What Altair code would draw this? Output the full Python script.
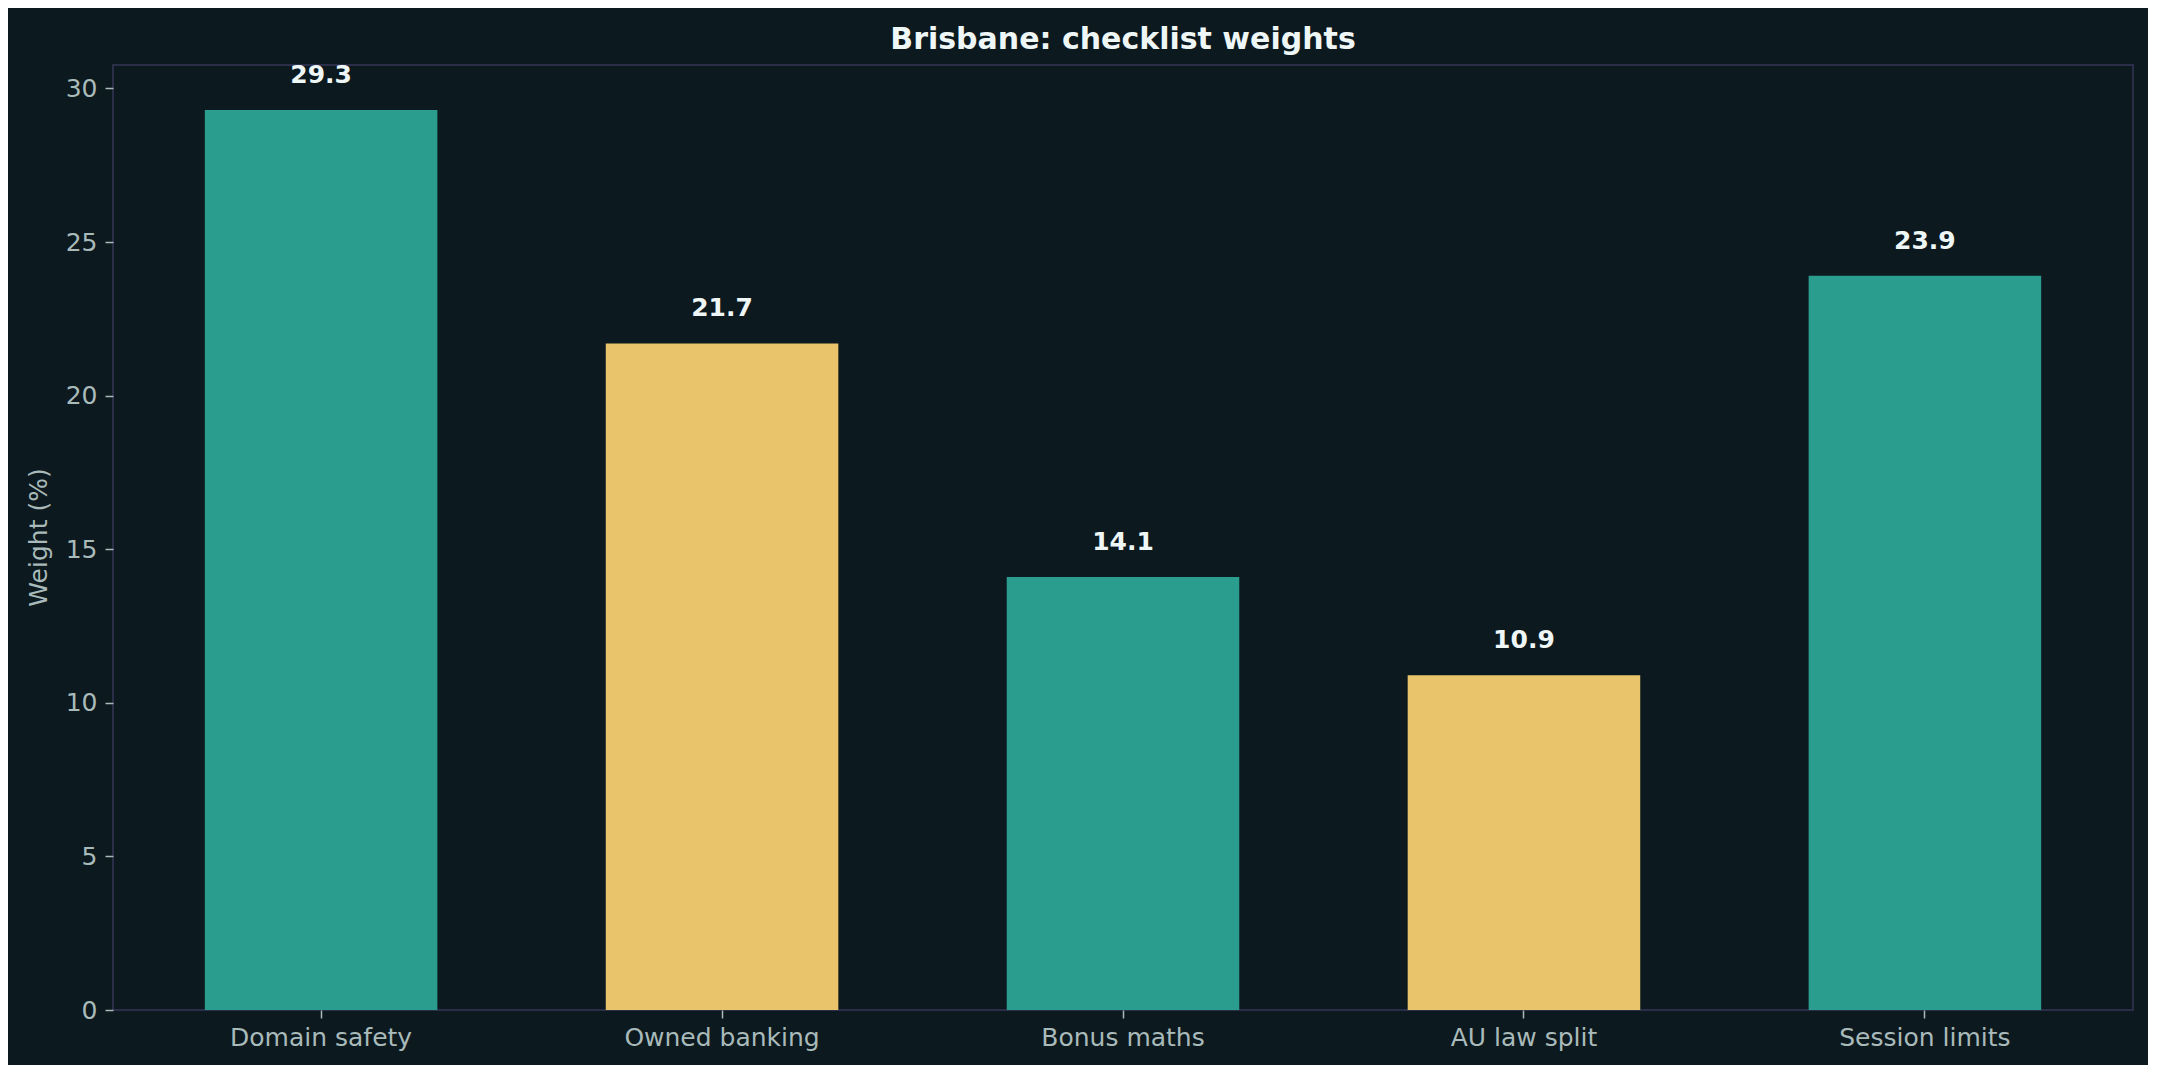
import altair as alt
import pandas as pd

categories = ["Domain safety", "Owned banking", "Bonus maths", "AU law split", "Session limits"]
weights = [29.3, 21.7, 14.1, 10.9, 23.9]
y_ticks = [0, 5, 10, 15, 20, 25, 30]

BG = "#0c191e"
TEAL = "#2a9d8f"
YELLOW = "#e9c46a"
FRAME = "#2a2e48"
LABEL = "#a9baba"
WHITE = "#eef6f6"
FONT = "DejaVu Sans"

df = pd.DataFrame({"category": categories, "weight": weights})

base = alt.Chart(df).encode(
    x=alt.X(
        "category:N",
        sort=categories,
        scale=alt.Scale(paddingInner=0.42, paddingOuter=0.229),
        axis=alt.Axis(
            title=None,
            labelAngle=0,
            labelFont=FONT,
            labelFontSize=25,
            labelColor=LABEL,
            labelPadding=7,
            labelLimit=0,
            tickSize=8,
            tickColor=LABEL,
            tickWidth=1.5,
            domain=False,
            grid=False,
        ),
    ),
    y=alt.Y(
        "weight:Q",
        scale=alt.Scale(domain=[0, 30.765], nice=False, zero=True),
        axis=alt.Axis(
            title="Weight (%)",
            values=y_ticks,
            labelFont=FONT,
            labelFontSize=25,
            labelColor=LABEL,
            labelPadding=8,
            tickSize=8,
            tickColor=LABEL,
            tickWidth=1.5,
            domain=False,
            grid=False,
            titleFont=FONT,
            titleFontSize=25,
            titleFontWeight="normal",
            titleColor=LABEL,
            titleAngle=270,
            titleAlign="center",
            titleBaseline="middle",
            titleX=-75,
            titleY=472,
        ),
    ),
)

bars = base.mark_bar(opacity=1).encode(
    color=alt.Color(
        "category:N",
        scale=alt.Scale(domain=categories, range=[TEAL, YELLOW, TEAL, YELLOW, TEAL]),
        legend=None,
    )
)

labels = base.mark_text(
    font=FONT,
    fontSize=25,
    fontWeight="bold",
    color=WHITE,
    baseline="alphabetic",
    align="center",
    dy=-27,
).encode(text=alt.Text("weight:Q", format=".1f"))

chart = (
    alt.layer(bars, labels)
    .properties(
        width=2020,
        height=945,
        title=alt.TitleParams(
            "Brisbane: checklist weights",
            font=FONT,
            fontSize=30,
            fontWeight="bold",
            color=WHITE,
            anchor="middle",
            baseline="alphabetic",
            offset=14,
            dy=30,
        ),
        autosize=alt.AutoSizeParams(type="none"),
        padding={"left": 105, "top": 57, "right": 15, "bottom": 55},
        background=BG,
    )
    .configure_view(stroke=FRAME, strokeWidth=2, fill=BG)
)

chart.save("out.html", embed_options={"renderer": "svg", "actions": False})
